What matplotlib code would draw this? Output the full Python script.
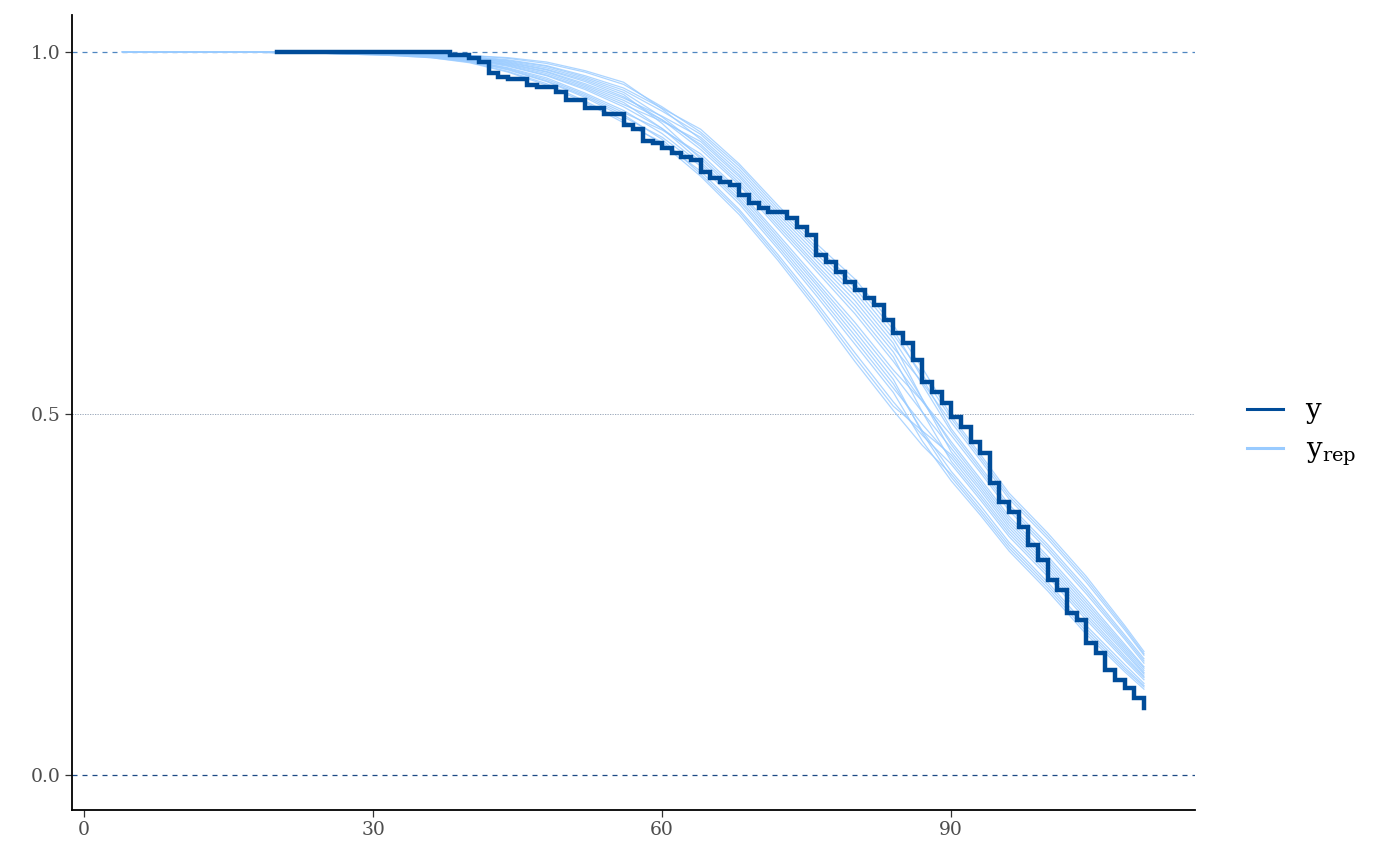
import matplotlib

matplotlib.use("Agg")
import matplotlib.pyplot as plt
from matplotlib.lines import Line2D

# ----------------------------------------------------------------------
# Data
# ----------------------------------------------------------------------
# observed Kaplan-Meier curve: step times and survival after each step
Y_TIME = [20, 38, 40, 41, 42, 43, 44, 46, 47, 49, 50, 52, 54, 56, 57, 58,
          59, 60, 61, 62, 63, 64, 65, 66, 67, 68, 69, 70, 71, 73, 74, 75,
          76, 77, 78, 79, 80, 81, 82, 83, 84, 85, 86, 87, 88, 89, 90, 91,
          92, 93, 94, 95, 96, 97, 98, 99, 100, 101, 102, 103, 104, 105,
          106, 107, 108, 109, 110]
Y_SURV = [1.000, 0.995, 0.992, 0.986, 0.971, 0.965, 0.963, 0.954, 0.952,
          0.945, 0.934, 0.922, 0.914, 0.899, 0.894, 0.877, 0.874, 0.867,
          0.860, 0.855, 0.851, 0.834, 0.826, 0.820, 0.816, 0.802, 0.791,
          0.784, 0.779, 0.770, 0.758, 0.747, 0.719, 0.710, 0.696, 0.682,
          0.671, 0.660, 0.650, 0.629, 0.611, 0.598, 0.574, 0.544, 0.530,
          0.515, 0.495, 0.481, 0.461, 0.445, 0.404, 0.378, 0.364, 0.343,
          0.318, 0.297, 0.270, 0.256, 0.224, 0.214, 0.183, 0.169, 0.145,
          0.131, 0.120, 0.107, 0.093]

# replicated curves, sampled on a common time grid
REP_TIME = [4, 15, 25, 32, 36, 40, 44, 48, 52, 56, 60, 64, 68, 72, 76, 80,
            84, 87, 90, 93, 96, 100, 104, 108, 110]
REP_01 = [1.0, 1.0, 1.000, 0.999, 0.998, 0.995, 0.991, 0.984, 0.972, 0.955, 0.924, 0.889, 0.842,
          0.784, 0.730, 0.680, 0.616, 0.549, 0.479, 0.427, 0.374, 0.319, 0.259, 0.194, 0.161]
REP_02 = [1.0, 1.0, 0.998, 0.995, 0.992, 0.986, 0.973, 0.956, 0.932, 0.905, 0.873, 0.828, 0.775,
          0.712, 0.644, 0.572, 0.504, 0.456, 0.416, 0.368, 0.318, 0.263, 0.203, 0.149, 0.124]
REP_03 = [1.0, 1.0, 0.999, 0.998, 0.996, 0.992, 0.985, 0.975, 0.959, 0.938, 0.906, 0.865, 0.816,
          0.756, 0.697, 0.638, 0.572, 0.517, 0.461, 0.410, 0.358, 0.303, 0.243, 0.181, 0.150]
REP_04 = [1.0, 1.0, 0.999, 0.996, 0.994, 0.988, 0.978, 0.964, 0.943, 0.919, 0.887, 0.845, 0.794,
          0.732, 0.668, 0.602, 0.535, 0.485, 0.439, 0.389, 0.338, 0.283, 0.223, 0.165, 0.137]
REP_05 = [1.0, 1.0, 0.999, 0.998, 0.997, 0.993, 0.988, 0.980, 0.965, 0.947, 0.918, 0.886, 0.838,
          0.780, 0.726, 0.674, 0.609, 0.554, 0.493, 0.440, 0.386, 0.331, 0.271, 0.204, 0.168]
REP_06 = [1.0, 1.0, 0.998, 0.996, 0.993, 0.987, 0.975, 0.959, 0.937, 0.910, 0.882, 0.842, 0.790,
          0.728, 0.663, 0.596, 0.529, 0.462, 0.407, 0.360, 0.310, 0.255, 0.195, 0.143, 0.119]
REP_07 = [1.0, 1.0, 0.999, 0.998, 0.996, 0.993, 0.987, 0.978, 0.963, 0.944, 0.910, 0.869, 0.819,
          0.760, 0.702, 0.644, 0.578, 0.502, 0.434, 0.385, 0.334, 0.279, 0.219, 0.162, 0.135]
REP_08 = [1.0, 1.0, 0.999, 0.997, 0.994, 0.989, 0.980, 0.967, 0.948, 0.924, 0.894, 0.855, 0.805,
          0.744, 0.682, 0.620, 0.554, 0.502, 0.452, 0.402, 0.350, 0.295, 0.235, 0.175, 0.145]
REP_09 = [1.0, 1.0, 0.999, 0.997, 0.995, 0.990, 0.982, 0.970, 0.952, 0.930, 0.894, 0.848, 0.797,
          0.736, 0.673, 0.608, 0.541, 0.476, 0.420, 0.373, 0.322, 0.267, 0.207, 0.153, 0.127]
REP_10 = [1.0, 1.0, 1.000, 0.998, 0.997, 0.994, 0.989, 0.981, 0.967, 0.950, 0.922, 0.893, 0.845,
          0.788, 0.735, 0.686, 0.622, 0.563, 0.497, 0.444, 0.390, 0.335, 0.275, 0.207, 0.171]
REP_11 = [1.0, 1.0, 0.999, 0.996, 0.994, 0.988, 0.977, 0.962, 0.941, 0.916, 0.892, 0.859, 0.808,
          0.748, 0.687, 0.626, 0.560, 0.517, 0.470, 0.419, 0.366, 0.311, 0.251, 0.188, 0.155]
REP_12 = [1.0, 1.0, 0.999, 0.997, 0.995, 0.990, 0.983, 0.972, 0.954, 0.933, 0.906, 0.872, 0.823,
          0.764, 0.706, 0.650, 0.585, 0.520, 0.457, 0.406, 0.354, 0.299, 0.239, 0.178, 0.148]
REP_13 = [1.0, 1.0, 1.000, 0.999, 0.998, 0.995, 0.992, 0.986, 0.974, 0.958, 0.921, 0.879, 0.830,
          0.772, 0.716, 0.662, 0.597, 0.520, 0.447, 0.398, 0.346, 0.291, 0.231, 0.172, 0.142]
REP_14 = [1.0, 1.0, 0.998, 0.995, 0.992, 0.985, 0.972, 0.954, 0.930, 0.902, 0.875, 0.835, 0.782,
          0.720, 0.654, 0.584, 0.516, 0.470, 0.430, 0.381, 0.330, 0.275, 0.215, 0.159, 0.132]
REP_15 = [1.0, 1.0, 0.999, 0.997, 0.995, 0.990, 0.981, 0.968, 0.950, 0.927, 0.904, 0.876, 0.827,
          0.768, 0.711, 0.656, 0.591, 0.543, 0.488, 0.436, 0.382, 0.327, 0.267, 0.201, 0.166]
REP_16 = [1.0, 1.0, 0.999, 0.998, 0.996, 0.992, 0.986, 0.976, 0.961, 0.941, 0.901, 0.852, 0.801,
          0.740, 0.678, 0.614, 0.547, 0.473, 0.412, 0.364, 0.314, 0.259, 0.199, 0.146, 0.122]
REP_17 = [1.0, 1.0, 0.999, 0.997, 0.996, 0.991, 0.984, 0.973, 0.956, 0.936, 0.911, 0.882, 0.834,
          0.776, 0.721, 0.668, 0.603, 0.540, 0.475, 0.423, 0.370, 0.315, 0.255, 0.191, 0.158]
REP_18 = [1.0, 1.0, 0.998, 0.996, 0.993, 0.987, 0.976, 0.960, 0.939, 0.913, 0.879, 0.831, 0.779,
          0.716, 0.649, 0.578, 0.510, 0.476, 0.443, 0.394, 0.342, 0.287, 0.227, 0.169, 0.140]
REP_CURVES = [REP_01, REP_02, REP_03, REP_04, REP_05, REP_06, REP_07, REP_08, REP_09,
              REP_10, REP_11, REP_12, REP_13, REP_14, REP_15, REP_16, REP_17, REP_18]

X_TICKS = [0, 30, 60, 90]
Y_TICKS = [0.0, 0.5, 1.0]

# bayesplot "brightblue" scheme
COLOR_Y = "#004c99"
COLOR_YREP = "#99cbff"

plt.rcParams.update({
    "font.family": ["DejaVu Serif"],
    "mathtext.fontset": "dejavuserif",
})

fig = plt.figure(figsize=(14, 8.66), dpi=100)
ax = fig.add_axes([0.0514, 0.0647, 0.8022, 0.918])

for curve in REP_CURVES:
    ax.plot(REP_TIME, curve, color=COLOR_YREP, linewidth=0.9, alpha=0.8, zorder=2)

ax.plot(Y_TIME, Y_SURV, drawstyle="steps-post", color=COLOR_Y,
        linewidth=3.2, solid_joinstyle="miter", zorder=3)

# reference lines at 0, 0.5 and 1
ax.axhline(1.0, color="#4f86c0", linewidth=0.9, linestyle=(0, (4, 4)), zorder=1)
ax.axhline(0.0, color="#1d4a85", linewidth=0.9, linestyle=(0, (4, 4)), zorder=1)
ax.axhline(0.5, color="#8c9bb0", linewidth=0.6, linestyle=(0, (1.5, 1.5)), zorder=1)

ax.set_xlim(-1.25, 115.3)
ax.set_ylim(-0.048, 1.051)
ax.set_xticks(X_TICKS)
ax.set_xticklabels([str(t) for t in X_TICKS])
ax.set_yticks(Y_TICKS)
ax.set_yticklabels([f"{t:.1f}" for t in Y_TICKS])

ax.spines["top"].set_visible(False)
ax.spines["right"].set_visible(False)
ax.spines["left"].set_linewidth(1.3)
ax.spines["bottom"].set_linewidth(1.3)
ax.tick_params(axis="both", colors="#333333", labelcolor="#4d4d4d",
               labelsize=13.5, length=5, width=0.9, pad=3)

handles = [
    Line2D([], [], color=COLOR_Y, linewidth=2.2),
    Line2D([], [], color=COLOR_YREP, linewidth=2.2),
]
fig.legend(handles, ["y", r"$\mathrm{y}_{\mathrm{rep}}$"],
           loc="center left", bbox_to_anchor=(0.873, 0.5),
           frameon=False, fontsize=20, handlelength=1.3,
           handletextpad=0.8, labelspacing=0.45)

fig.savefig("out.png", dpi=100)
